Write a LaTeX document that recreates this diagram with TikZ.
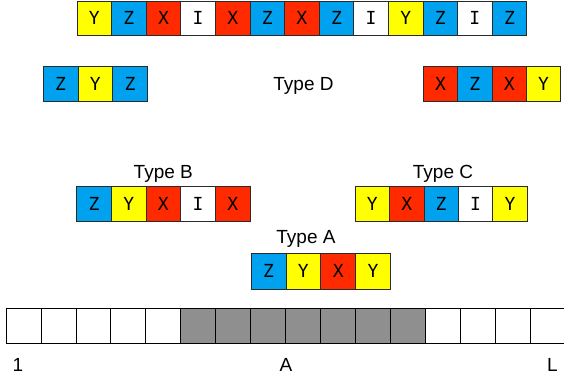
\documentclass[tikz,border=0pt]{standalone}
\usepackage{fontspec}
\setmainfont{Liberation Sans}
\newfontfamily\cellfont{DejaVu Sans Mono}
\definecolor{yy}{HTML}{FFFF00}
\definecolor{bb}{HTML}{00A2F0}
\definecolor{rr}{HTML}{FF2A00}
\definecolor{gg}{HTML}{8F8F8F}
\definecolor{ln}{HTML}{2A2A2A}
\begin{document}
\begin{tikzpicture}[x=1pt,y=-1pt,
  cell/.style={draw=ln,line width=0.8pt,inner sep=0pt,minimum height=34.6pt,font=\cellfont\fontsize{18}{18}\selectfont},
  lbl/.style={font=\fontsize{19}{19}\selectfont,inner sep=0pt,anchor=base}]
\useasboundingbox (0,0) rectangle (564,381);
% top row
\foreach \l/\c [count=\i] in {Y/yy,Z/bb,X/rr,I/white,X/rr,Z/bb,X/rr,Z/bb,I/white,Y/yy,Z/bb,I/white,Z/bb}
  \node[cell,fill=\c,minimum width=34.6pt] (t\i) at ({77+34.6*(\i-0.5)},18.2) {\l};
% type D left
\foreach \l/\c [count=\i] in {Z/bb,Y/yy,Z/bb}
  \node[cell,fill=\c,minimum width=34.7pt] (dl\i) at ({43.3+34.7*(\i-0.5)},83.8) {\l};
% type D right
\foreach \l/\c [count=\i] in {X/rr,Z/bb,X/rr,Y/yy}
  \node[cell,fill=\c,minimum width=34.35pt] (dr\i) at ({423.3+34.35*(\i-0.5)},83.8) {\l};
\node[lbl] (tD) at (303.5,90.5) {Type D};
% type B
\foreach \l/\c [count=\i] in {Z/bb,Y/yy,X/rr,I/white,X/rr}
  \node[cell,fill=\c,minimum width=34.66pt] (b\i) at ({76.7+34.66*(\i-0.5)},203.8) {\l};
\node[lbl] (tB) at (163.3,178) {Type B};
% type C
\foreach \l/\c [count=\i] in {Y/yy,X/rr,Z/bb,I/white,Y/yy}
  \node[cell,fill=\c,minimum width=34.46pt] (c\i) at ({355+34.46*(\i-0.5)},203.8) {\l};
\node[lbl] (tC) at (443,178) {Type C};
% type A
\foreach \l/\c [count=\i] in {Z/bb,Y/yy,X/rr,Y/yy}
  \node[cell,fill=\c,minimum width=34.9pt,minimum height=35.5pt] (a\i) at ({251+34.9*(\i-0.5)},271.2) {\l};
\node[lbl] (tA) at (306,243.3) {Type A};
% bottom strip
\foreach \c [count=\i] in {white,white,white,white,white,gg,gg,gg,gg,gg,gg,gg,white,white,white,white}
  \node[cell,draw=black,fill=\c,minimum width=34.95pt,minimum height=35pt] (s\i) at ({6+34.95*(\i-0.5)},325.8) {};
\node[lbl] (n1) at (18,371) {1};
\node[lbl] (nA) at (286,371) {A};
\node[lbl] (nL) at (552.5,371) {L};
\end{tikzpicture}
\end{document}
